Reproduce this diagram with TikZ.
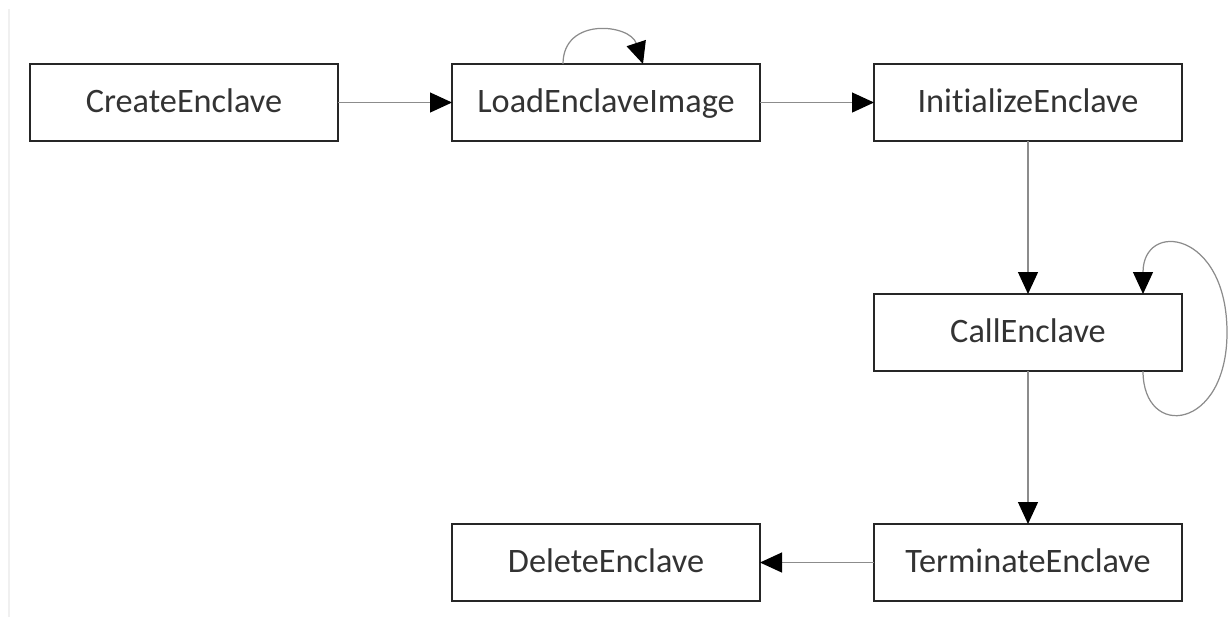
\documentclass[tikz,border=0pt]{standalone}
\usepackage{fontspec}
\setmainfont{Carlito}[Ligatures={NoCommon}]
\usetikzlibrary{arrows.meta,positioning}

\tikzset{
  state/.style={draw=black!85,line width=1.6pt,minimum width=6.16cm,minimum height=1.54cm,
    inner sep=0pt,outer sep=0pt,text height=12.5pt,text depth=1pt,
    font=\fontsize{19.5}{21}\selectfont,text=black!80},
  flow/.style={draw=black!45,line width=0.7pt,-{Triangle[length=0.44cm,width=0.4cm,color=black]}}
}

\begin{document}
\begin{tikzpicture}
\useasboundingbox (0,0) rectangle (24.6,-12.34);
\draw[black!6,line width=0.8pt] (0.18,-0.18) -- (0.18,-12.34);

\node[state] (create) at (3.68,-2.05) {CreateEnclave};
\node[state] (load) [right=2.28cm of create] {LoadEnclaveImage};
\node[state] (init) [right=2.28cm of load] {InitializeEnclave};
\node[state] (call) [below=3.06cm of init] {CallEnclave};
\node[state] (term) [below=3.06cm of call] {TerminateEnclave};
\node[state] (delete) [left=2.28cm of term] {DeleteEnclave};

\draw[flow] (create) -- (load);
\draw[flow] (load) -- (init);
\draw[flow] (init) -- (call);
\draw[flow] (call) -- (term);
\draw[flow] (term) -- (delete);

% self loops
\draw[flow] ([xshift=-0.86cm]load.north) .. controls +(0,0.95) and +(-0.26,0.8) .. ([xshift=0.74cm]load.north);
\draw[flow] ([xshift=2.3cm]call.south) .. controls +(0,-1.38) and +(0,-1.96) .. ([xshift=3.98cm]call.center)
  .. controls +(0,2.04) and +(0,1.48) .. ([xshift=2.3cm]call.north);

\end{tikzpicture}
\end{document}
